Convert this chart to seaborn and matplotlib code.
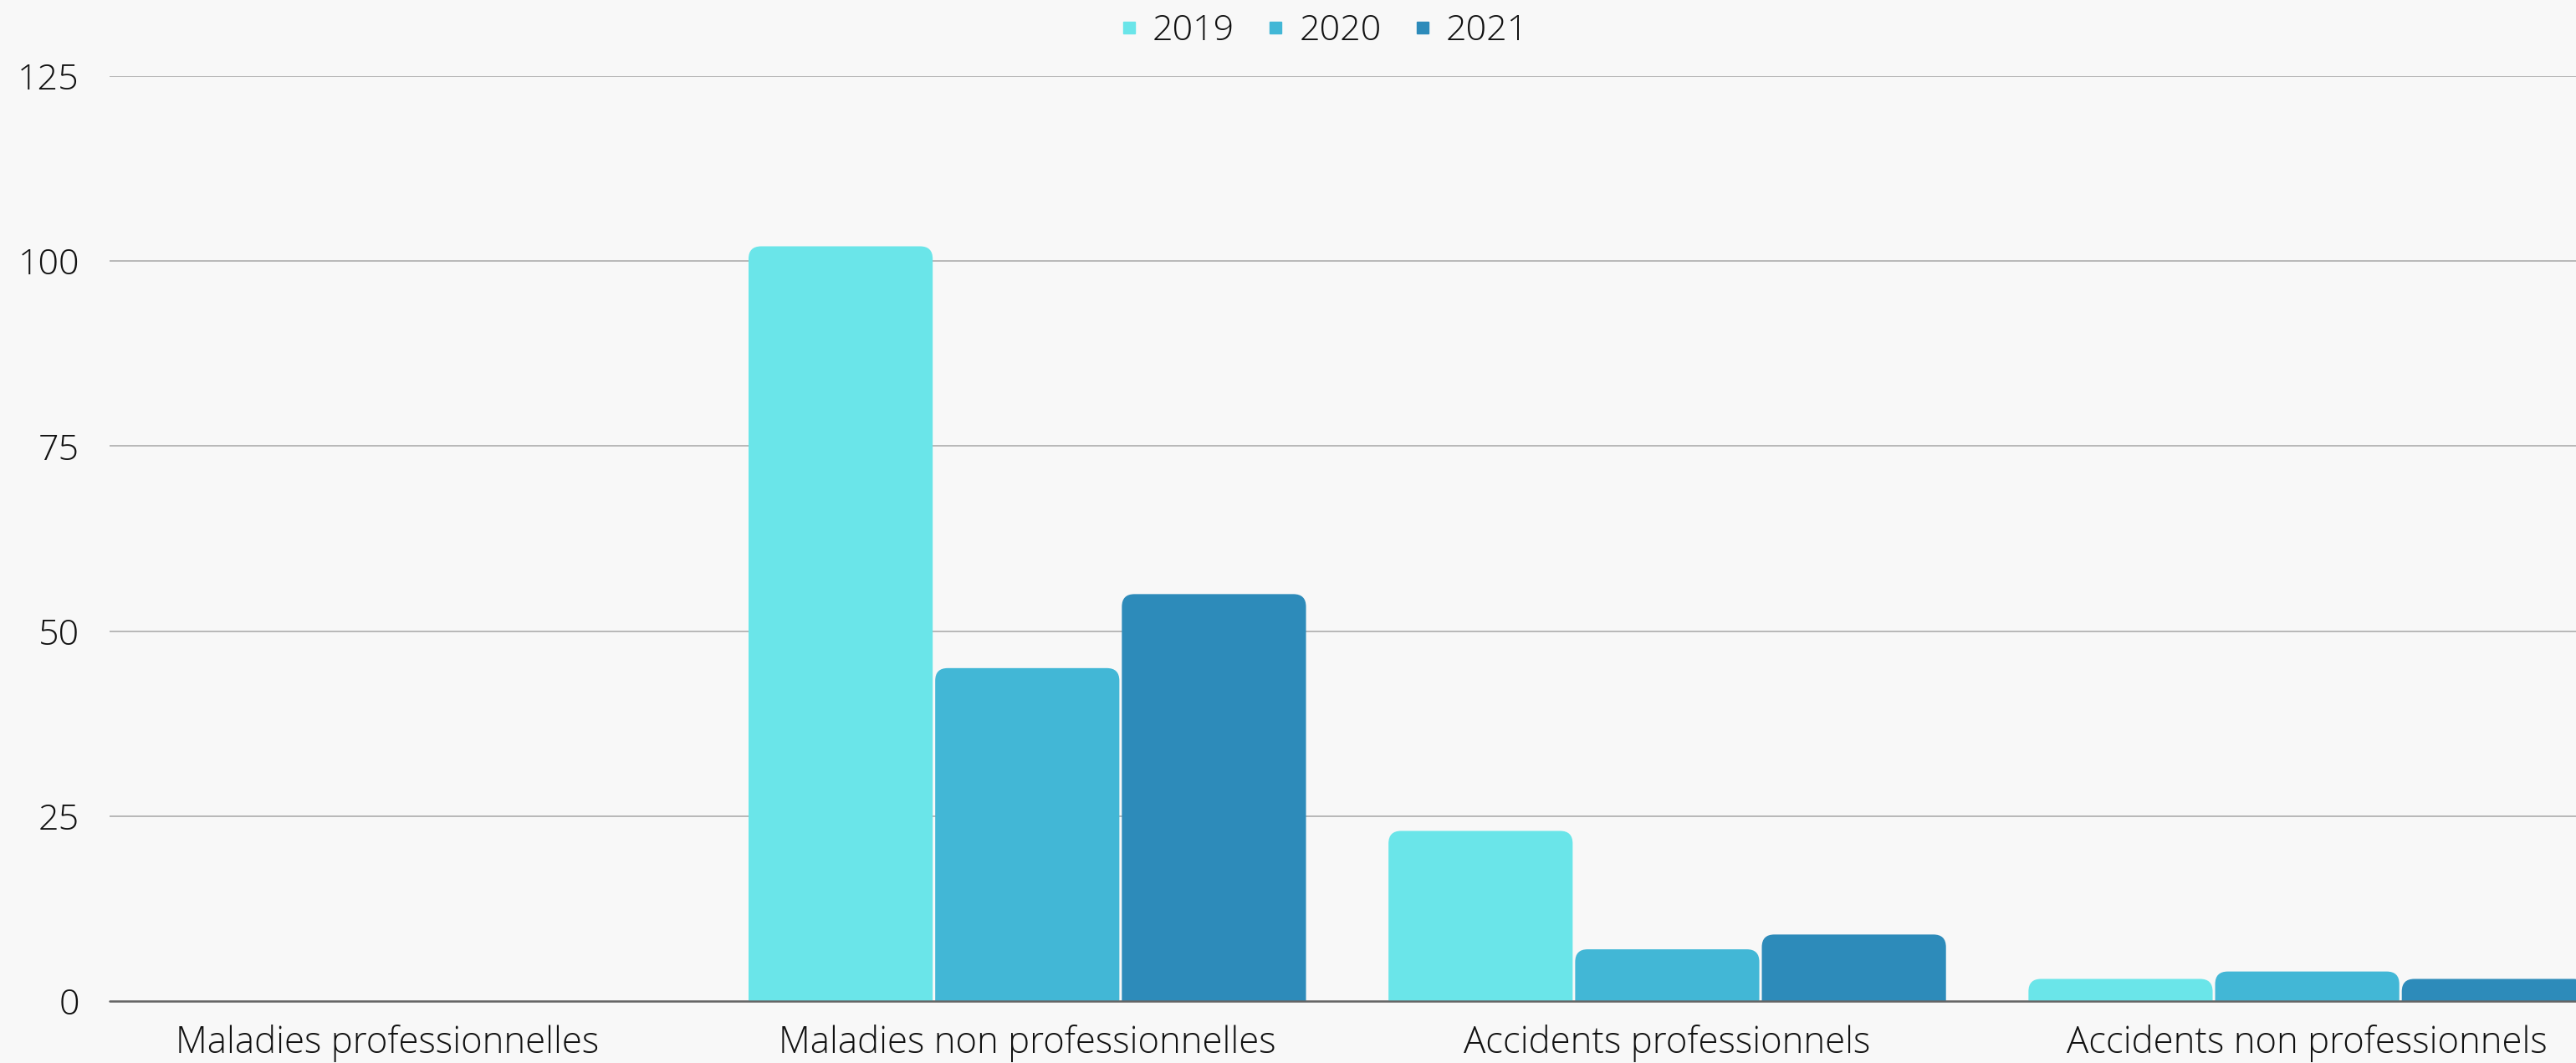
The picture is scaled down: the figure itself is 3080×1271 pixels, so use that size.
import matplotlib
matplotlib.use("Agg")
import matplotlib.pyplot as plt
from matplotlib.patches import FancyBboxPatch
from matplotlib.lines import Line2D
import seaborn as sns
import pandas as pd

categories = ['Maladies professionnelles', 'Maladies non professionnelles',
              'Accidents professionnels', 'Accidents non professionnels']
years = ['2019', '2020', '2021']
values_2019 = [0, 102, 23, 3]
values_2020 = [0, 45, 7, 4]
values_2021 = [0, 55, 9, 3]
yticks = [0, 25, 50, 75, 100, 125]
colors = ['#6ae5e9', '#42b7d6', '#2d8bba']
bg = '#f8f8f8'

rows = []
for year, vals in zip(years, [values_2019, values_2020, values_2021]):
    for cat, v in zip(categories, vals):
        rows.append({'Catégorie': cat, 'Année': year, 'Valeur': v})
df = pd.DataFrame(rows)

sns.set_theme(style='white')
plt.rcParams['font.family'] = ['Open Sans', 'DejaVu Sans']
plt.rcParams['font.weight'] = 'light'

fig = plt.figure(figsize=(30.8, 12.71), dpi=100, facecolor=bg)
ax = fig.add_axes([131 / 3080, 74 / 1271, 1 - 131 / 3080, (1197 - 91) / 1271])
ax.set_facecolor(bg)

sns.barplot(data=df, x='Catégorie', y='Valeur', hue='Année', palette=colors,
            width=0.875, ax=ax, legend=False, saturation=1)

ax.set_xlim(-0.434, 3.42)
ax.set_ylim(0, 125)

# rounded tops: replace each bar by a rounded box that extends below zero
fig.canvas.draw()
px_x = ax.transData.transform((1, 0))[0] - ax.transData.transform((0, 0))[0]
px_y = ax.transData.transform((0, 1))[1] - ax.transData.transform((0, 0))[1]
aspect = px_x / px_y
r = 15 / px_x
gap = 3 / px_x
for p in list(ax.patches):
    x, w, h = p.get_x(), p.get_width(), p.get_height()
    fc = p.get_facecolor()
    p.remove()
    if h <= 0:
        continue
    box = FancyBboxPatch((x + gap / 2, -r * aspect * 2), w - gap, h + r * aspect * 2,
                         boxstyle=f'round,pad=0,rounding_size={r}',
                         mutation_aspect=aspect, facecolor=fc, edgecolor='none',
                         zorder=2)
    ax.add_patch(box)

ax.set_yticks(yticks)
ax.yaxis.grid(True, color='#b8b8b8', linewidth=1.4, zorder=0)
ax.set_axisbelow(True)
ax.axhline(0, color='#666666', linewidth=1.8, zorder=3, clip_on=False)
sns.despine(ax=ax, left=True, bottom=True)
ax.tick_params(axis='y', length=0, pad=26, labelsize=31, labelcolor='#111111')
ax.tick_params(axis='x', length=0, pad=20, labelsize=31.5, labelcolor='#111111')
ax.set_xlabel('')
ax.set_ylabel('')

handles = [Line2D([], [], marker='s', linestyle='', markersize=9.5,
                  markerfacecolor=c, markeredgecolor=c) for c in colors]
fig.legend(handles, years, loc='upper center', bbox_to_anchor=(1583 / 3080, 1.018),
           ncol=3, frameon=False, fontsize=31, handlelength=0.5, handletextpad=0.4,
           columnspacing=0.9, labelcolor='#111111')

fig.savefig('out.png', dpi=100, facecolor=bg)
